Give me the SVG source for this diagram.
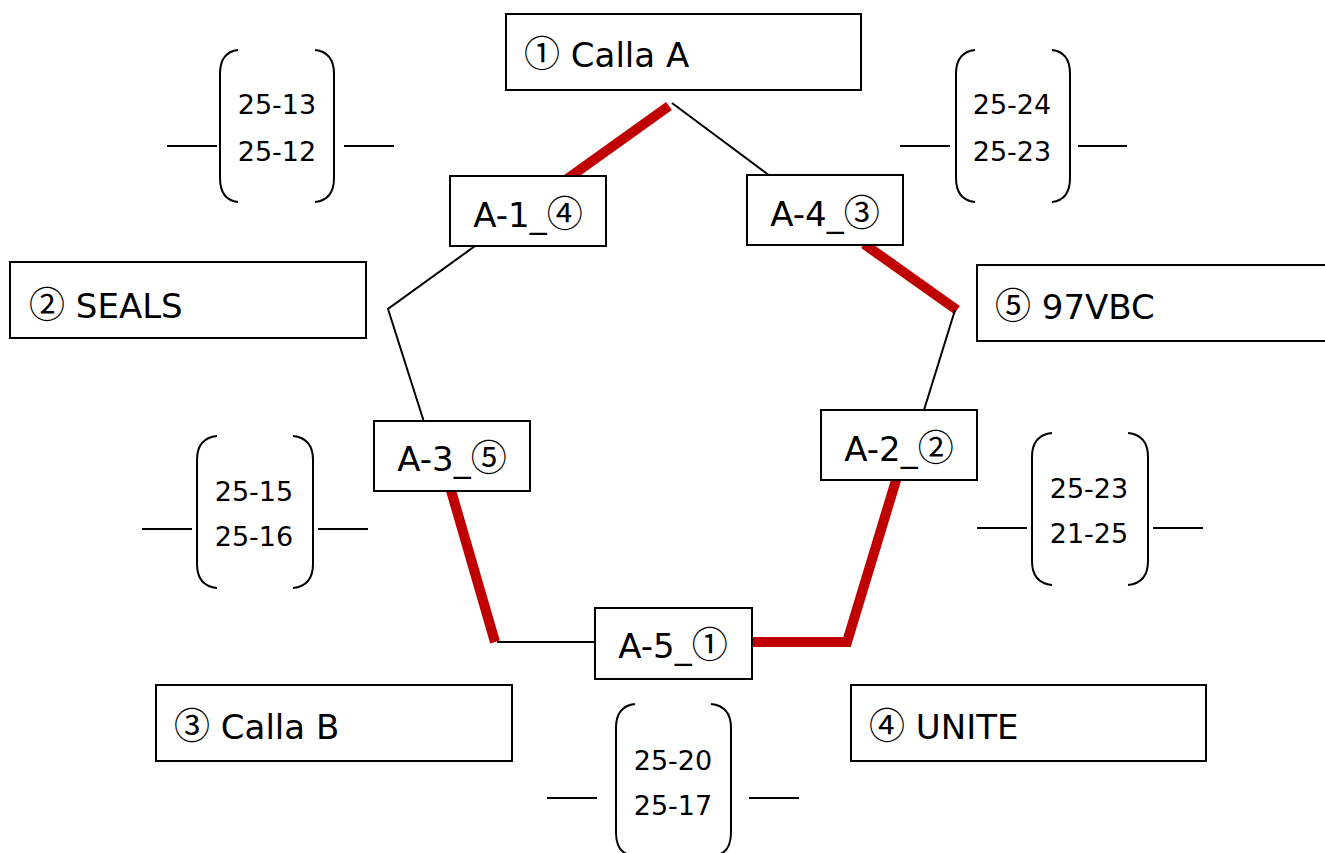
<svg xmlns="http://www.w3.org/2000/svg" width="1325" height="853" viewBox="0 0 1325 853">
<style>
.box{fill:#fff;stroke:#000;stroke-width:2}
.lbl{font-family:"DejaVu Sans","Noto Sans CJK JP",sans-serif;font-size:34px;fill:#000}
.c{font-family:"Noto Sans CJK JP",sans-serif;font-weight:400;font-size:36px}
.mid{text-anchor:middle}
.score{font-family:"DejaVu Sans","Noto Sans CJK JP",sans-serif;font-size:27px;fill:#000;text-anchor:middle}
.blk{fill:none;stroke:#000;stroke-width:2}
.red{fill:none;stroke:#C00000;stroke-width:10}
.br{fill:none;stroke:#000;stroke-width:2}
</style>
<rect width="1325" height="853" fill="#fff"/>
<g id="connectors">
<line class="red" x1="669" y1="106" x2="567" y2="179"/>
<polyline class="blk" points="672,103 770,176"/>
<polyline class="blk" points="475,246 388,309 424,422"/>
<line class="red" x1="864" y1="244" x2="957" y2="310"/>
<polyline class="blk" points="955,310 924,410"/>
<polyline class="red" points="897,477 847,642 752,642"/>
<line class="red" x1="450" y1="487" x2="495" y2="642"/>
<polyline class="blk" points="497,642 596,642"/>
</g>
<g id="n-calla-a"><rect class="box" x="506" y="14" width="355" height="76"/><text class="lbl" x="524" y="67"><tspan class="c">①</tspan> Calla A</text></g>
<g id="n-seals"><rect class="box" x="10" y="262" width="356" height="76"/><text class="lbl" x="29" y="318"><tspan class="c">②</tspan> SEALS</text></g>
<g id="n-97vbc"><rect class="box" x="977" y="265" width="352" height="76"/><text class="lbl" x="995" y="319"><tspan class="c">⑤</tspan> 97VBC</text></g>
<g id="n-calla-b"><rect class="box" x="156" y="685" width="356" height="76"/><text class="lbl" x="174" y="739"><tspan class="c">③</tspan> Calla B</text></g>
<g id="n-unite"><rect class="box" x="851" y="685" width="355" height="76"/><text class="lbl" x="869" y="739"><tspan class="c">④</tspan> UNITE</text></g>
<g id="n-a1"><rect class="box" x="450" y="176" width="156" height="70"/><text class="lbl mid" x="528" y="227">A-1_<tspan class="c">④</tspan></text></g>
<g id="n-a4"><rect class="box" x="747" y="175" width="156" height="70"/><text class="lbl mid" x="825" y="226">A-4_<tspan class="c">③</tspan></text></g>
<g id="n-a3"><rect class="box" x="374" y="421" width="156" height="70"/><text class="lbl mid" x="452" y="471">A-3_<tspan class="c">⑤</tspan></text></g>
<g id="n-a2"><rect class="box" x="821" y="410" width="156" height="70"/><text class="lbl mid" x="899" y="461">A-2_<tspan class="c">②</tspan></text></g>
<g id="n-a5"><rect class="box" x="595" y="608" width="157" height="71"/><text class="lbl mid" x="673" y="658">A-5_<tspan class="c">①</tspan></text></g>
<g id="score-1">
<line class="br" x1="167" y1="146" x2="217" y2="146"/><line class="br" x1="344" y1="146" x2="394" y2="146"/>
<path class="br" d="M238,50 Q220,52 220,74 L220,178 Q220,200 238,202"/>
<path class="br" d="M315,50 Q334,52 334,74 L334,178 Q334,200 315,202"/>
<text class="score" x="277" y="114">25-13</text><text class="score" x="277" y="161">25-12</text>
</g>
<g id="score-2">
<line class="br" x1="900" y1="146" x2="950" y2="146"/><line class="br" x1="1078" y1="146" x2="1127" y2="146"/>
<path class="br" d="M975,50 Q956,52 956,74 L956,178 Q956,200 975,202"/>
<path class="br" d="M1052,50 Q1070,52 1070,74 L1070,178 Q1070,200 1052,202"/>
<text class="score" x="1012" y="114">25-24</text><text class="score" x="1012" y="161">25-23</text>
</g>
<g id="score-3">
<line class="br" x1="142" y1="529" x2="192" y2="529"/><line class="br" x1="318" y1="529" x2="368" y2="529"/>
<path class="br" d="M217,436 Q197,438 197,460 L197,564 Q197,586 217,588"/>
<path class="br" d="M293,436 Q313,438 313,460 L313,564 Q313,586 293,588"/>
<text class="score" x="254" y="501">25-15</text><text class="score" x="254" y="546">25-16</text>
</g>
<g id="score-4">
<line class="br" x1="977" y1="528" x2="1027" y2="528"/><line class="br" x1="1153" y1="528" x2="1203" y2="528"/>
<path class="br" d="M1052,433 Q1032,435 1032,457 L1032,561 Q1032,583 1052,585"/>
<path class="br" d="M1128,433 Q1148,435 1148,457 L1148,561 Q1148,583 1128,585"/>
<text class="score" x="1089" y="498">25-23</text><text class="score" x="1089" y="543">21-25</text>
</g>
<g id="score-5">
<line class="br" x1="547" y1="798" x2="597" y2="798"/><line class="br" x1="749" y1="798" x2="799" y2="798"/>
<path class="br" d="M635,704 Q616,706 616,728 L616,832 Q616,852 630,855"/>
<path class="br" d="M711,704 Q731,706 731,728 L731,832 Q731,852 717,855"/>
<text class="score" x="673" y="770">25-20</text><text class="score" x="673" y="815">25-17</text>
</g>
</svg>
